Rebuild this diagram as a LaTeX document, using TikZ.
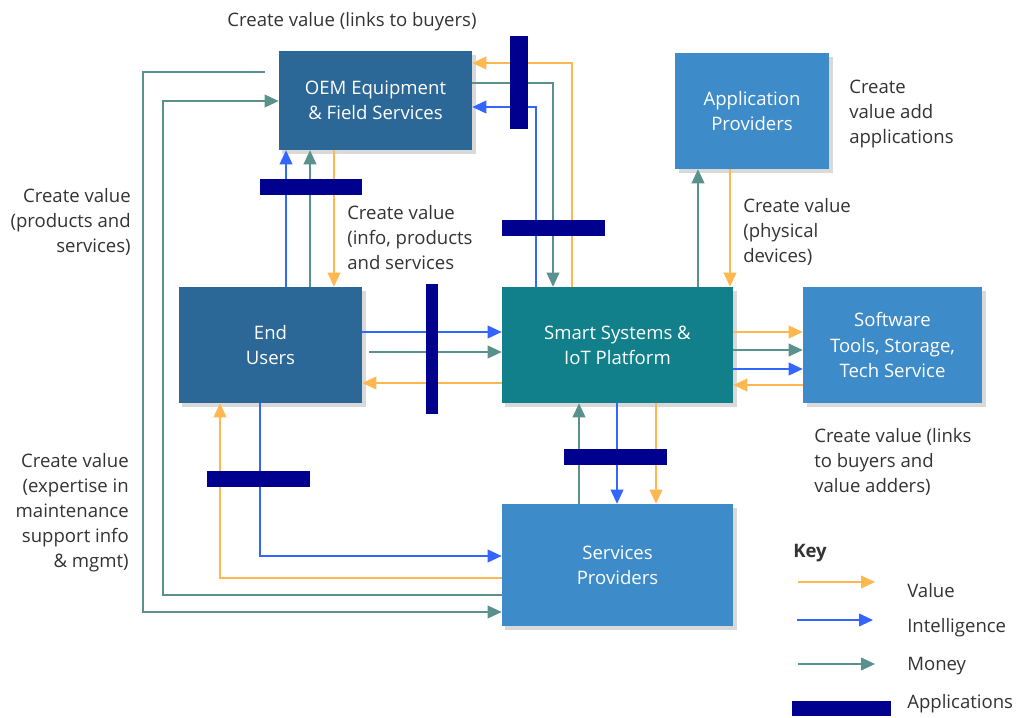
\documentclass[tikz,border=0pt]{standalone}
\usepackage{fontspec}
\setmainfont{Open Sans}
\usepackage{xcolor}
\usetikzlibrary{arrows.meta,shadows}

\definecolor{oemblue}{HTML}{2B6898}
\definecolor{provblue}{HTML}{3D8BC9}
\definecolor{iotteal}{HTML}{12808A}
\definecolor{valuecol}{HTML}{FFB84F}
\definecolor{intelcol}{HTML}{3366FF}
\definecolor{moneycol}{HTML}{5A918D}
\definecolor{appcol}{HTML}{00008F}
\definecolor{labelcol}{HTML}{333333}

\begin{document}
\begin{tikzpicture}[x=0.025cm, y=-0.025cm, >={Triangle[length=0.35cm,width=0.32cm]},
    font=\fontsize{13.2}{17.8}\selectfont, text=labelcol,
    ecobox/.style={inner sep=0pt, align=center, text=white,
        drop shadow={shadow xshift=2.5pt, shadow yshift=-2.5pt, opacity=0.25, fill=black!60}},
    appbar/.style={fill=appcol, inner sep=0pt},
    val/.style={->, draw=valuecol, line width=0.9pt},
    int/.style={->, draw=intelcol, line width=0.9pt},
    mon/.style={->, draw=moneycol, line width=0.9pt},
    lbl/.style={inner sep=0pt}]
    \useasboundingbox (0,0) rectangle (1018,717);

    \node[ecobox, fill=oemblue, minimum width=4.825cm, minimum height=2.475cm] (OEM) at (375.5,100.5) {OEM Equipment\\\& Field Services};
    \node[ecobox, fill=provblue, minimum width=3.85cm, minimum height=2.9cm] (App) at (752,111) {Application\\Providers};
    \node[ecobox, fill=oemblue, minimum width=4.575cm, minimum height=2.9cm] (End) at (270.5,345) {End\\Users};
    \node[ecobox, fill=iotteal, minimum width=5.775cm, minimum height=2.9cm] (Smart) at (617.5,345) {Smart Systems \&\\IoT Platform};
    \node[ecobox, fill=provblue, minimum width=4.475cm, minimum height=2.9cm] (Soft) at (892.5,345) {Software\\Tools, Storage,\\Tech Service};
    \node[ecobox, fill=provblue, minimum width=5.775cm, minimum height=3.05cm] (Serv) at (617.5,565) {Services\\Providers};

    \draw[val] (572,0 |- Smart.north) |- (OEM.east |- 0,63);
    \draw[mon] (OEM.east |- 0,83) -| (553,0 |- Smart.north);
    \draw[int] (536,0 |- Smart.north) |- (OEM.east |- 0,107);

    \draw[int] (286,0 |- End.north) -- (286,0 |- OEM.south);
    \draw[mon] (310,0 |- End.north) -- (310,0 |- OEM.south);
    \draw[val] (334,0 |- OEM.south) -- (334,0 |- End.north);

    \draw[mon, shorten <=0.35cm] (OEM.west |- 0,72) -- (143,72) |- (Serv.west |- 0,612);
    \draw[mon] (Serv.west |- 0,595) -| (163,101) -- (OEM.west |- 0,101);

    \draw[int] (End.east |- 0,332) -- (Smart.west |- 0,332);
    \draw[mon, shorten <=0.175cm] (End.east |- 0,352) -- (Smart.west |- 0,352);
    \draw[val] (Smart.west |- 0,383) -- (End.east |- 0,383);

    \draw[int] (260,0 |- End.south) |- (Serv.west |- 0,556);
    \draw[val] (Serv.west |- 0,578) -| (220,0 |- End.south);

    \draw[mon] (579,0 |- Serv.north) -- (579,0 |- Smart.south);
    \draw[int] (617,0 |- Smart.south) -- (617,0 |- Serv.north);
    \draw[val] (656,0 |- Smart.south) -- (656,0 |- Serv.north);

    \draw[val] (Smart.east |- 0,332) -- (Soft.west |- 0,332);
    \draw[mon] (Smart.east |- 0,350) -- (Soft.west |- 0,350);
    \draw[int] (Smart.east |- 0,369) -- (Soft.west |- 0,369);
    \draw[val] (Soft.west |- 0,385) -- (Smart.east |- 0,385);

    \draw[mon] (698,0 |- Smart.north) -- (698,0 |- App.south);
    \draw[val] (730,0 |- App.south) -- (730,0 |- Smart.north);

    \node[appbar, minimum width=0.45cm, minimum height=2.325cm] (ab1) at (519,82.5) {};
    \node[appbar, minimum width=2.55cm, minimum height=0.4cm] (ab2) at (311,187) {};
    \node[appbar, minimum width=2.575cm, minimum height=0.4cm] (ab3) at (553.5,228) {};
    \node[appbar, minimum width=0.3cm, minimum height=3.25cm] (ab4) at (432,349) {};
    \node[appbar, minimum width=2.575cm, minimum height=0.4cm] (ab5) at (258.5,479) {};
    \node[appbar, minimum width=2.575cm, minimum height=0.4cm] (ab6) at (615.5,457) {};

    \node[lbl, anchor=north] (lblinks) at (352,12) {Create value (links to buyers)};
    \node[lbl, anchor=north west, align=left] (lbinfo) at (347,205) {Create value\\(info, products\\and services};
    \node[lbl, anchor=north east, align=right] (lbprod) at (131,188) {Create value\\(products and\\services)};
    \node[lbl, anchor=north east, align=right] (lbexp) at (129,453) {Create value\\(expertise in\\maintenance\\support info\\\& mgmt)};
    \node[lbl, anchor=north west, align=left] (lbadd) at (849,80) {Create\\value add\\applications};
    \node[lbl, anchor=north west, align=left] (lbphys) at (743,198) {Create value\\(physical\\devices)};
    \node[lbl, anchor=north west, align=left] (lbbuy) at (814,428) {Create value (links\\to buyers and\\value adders)};

    \node[lbl, anchor=west, font=\fontsize{13.2}{17.8}\selectfont\bfseries] (keyttl) at (793,553) {Key};
    \coordinate (kv1) at (798,582); \coordinate (kv2) at (875,582);
    \coordinate (ki1) at (797,620); \coordinate (ki2) at (873,620);
    \coordinate (km1) at (798,664); \coordinate (km2) at (875,664);
    \draw[val] (kv1) -- (kv2);
    \draw[int] (ki1) -- (ki2);
    \draw[mon] (km1) -- (km2);
    \node[appbar, minimum width=2.475cm, minimum height=0.375cm] (kapp) at (841.5,708.5) {};
    \node[lbl, anchor=west] (kvlbl) at (907,591) {Value};
    \node[lbl, anchor=west] (kilbl) at (907,628) {Intelligence};
    \node[lbl, anchor=west] (kmlbl) at (907,666) {Money};
    \node[lbl, anchor=west] (kalbl) at (907,704) {Applications};
\end{tikzpicture}
\end{document}
